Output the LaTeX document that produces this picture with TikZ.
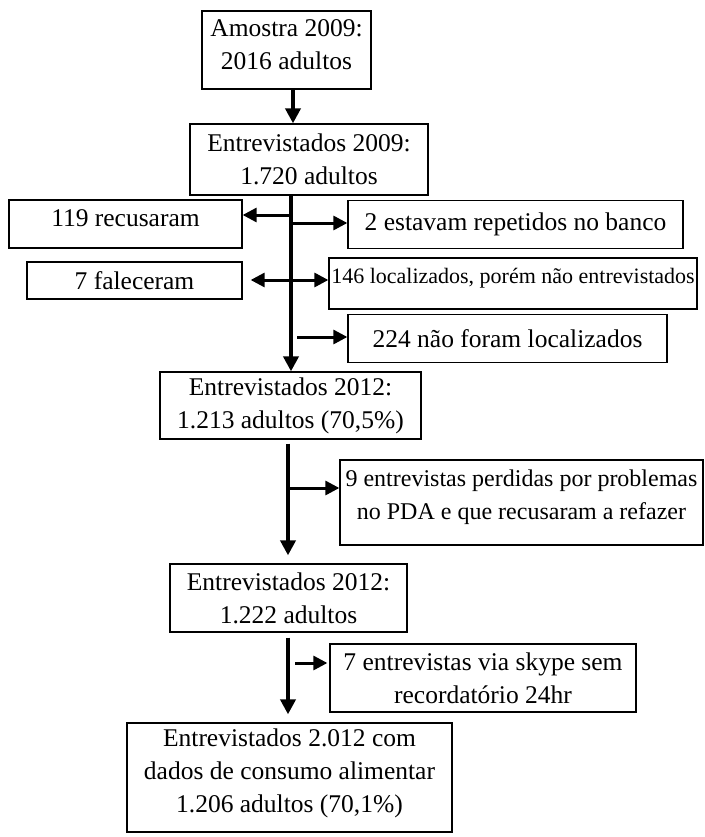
\documentclass[tikz,border=0pt]{standalone}
\usepackage{fontspec}
\setmainfont{Liberation Serif}
\usetikzlibrary{arrows.meta,calc,positioning}
\tikzstyle{box}=[rectangle,draw=black,line width=1.3pt,inner sep=1pt,align=center,
  font=\fontsize{25.5}{33}\selectfont]
\tikzstyle{smallbox}=[box,font=\fontsize{22}{26}\selectfont]
\tikzstyle{trunk}=[line width=4pt,-{Triangle[length=15pt,width=15pt]}]
\tikzstyle{branch}=[line width=3pt,-{Triangle[length=14pt,width=14pt]}]

\begin{document}
\begin{tikzpicture}[x=1pt,y=-1pt]
    \useasboundingbox (0,0) rectangle (704,837);

    % main column
    \node[box,minimum width=169pt,minimum height=78pt,text depth=10pt] (amostra) at (286.5,50)
      {Amostra 2009:\\2016 adultos};
    \node[box,minimum width=238pt,minimum height=71pt] (entr09) at (309,159.5)
      {Entrevistados 2009:\\1.720 adultos};
    \node[box,minimum width=261pt,minimum height=67pt] (entr12a) at (290.5,405.5)
      {Entrevistados 2012:\\1.213 adultos (70,5\%)};
    \node[box,minimum width=237pt,minimum height=68pt] (entr12b) at (288.5,598)
      {Entrevistados 2012:\\1.222 adultos};
    \node[box,minimum width=325pt,minimum height=109pt,text depth=14pt] (final) at (289.5,777.5)
      {Entrevistados 2.012 com\\dados de consumo alimentar\\1.206 adultos (70,1\%)};

    % losses
    \node[box,minimum width=233pt,minimum height=48pt,text depth=12pt] (recusa) at (125.5,224)
      {119 recusaram};
    \node[box,minimum width=215pt,minimum height=37pt] (falec) at (134.5,280.5)
      {7 faleceram};
    \node[box,minimum width=335pt,minimum height=48pt] (repet) at (515.5,224.5)
      {2 estavam repetidos no banco};
    \node[smallbox,minimum width=368pt,minimum height=51pt,text depth=15pt] (localiz) at (513,283.5)
      {146 localizados, porém não entrevistados};
    \node[box,minimum width=319pt,minimum height=48pt] (naoloc) at (507.5,338.5)
      {224 não foram localizados};
    \node[box,font=\fontsize{24}{32.5}\selectfont,minimum width=363pt,minimum height=85pt,text depth=16pt]
      (perdidas) at (521.5,502.5)
      {9 entrevistas perdidas por problemas\\no PDA e que recusaram a refazer};
    \node[box,minimum width=306pt,minimum height=68pt] (skype) at (483,678)
      {7 entrevistas via skype sem\\recordatório 24hr};

    % trunk lines
    \coordinate (tr0) at ($(amostra.south)+(6.5,0)$);
    \coordinate (tr1) at (291,0);
    \coordinate (tr2) at (288,0);
    \draw[trunk] (tr0) -- (tr0 |- entr09.north);
    \draw[trunk] (entr09.south -| tr1) -- (entr12a.north -| tr1);
    \draw[trunk] ($(entr12a.south -| tr2)+(0,4)$) -- ($(entr12b.north -| tr2)+(0,-8)$);
    \draw[trunk] ($(entr12b.south -| tr2)+(0,5)$) -- ($(final.north -| tr2)+(0,-8)$);

    % branches
    \coordinate (b1) at (290,215);
    \coordinate (b2) at (292,223);
    \coordinate (b3) at (291,280);
    \coordinate (b4) at (297,337);
    \coordinate (b5) at (288,488);
    \coordinate (b6) at (295,663);
    \draw[branch] (b1) -- (b1 -| recusa.east);
    \draw[branch] (b2) -- (b2 -| repet.west);
    \draw[branch] (b3) -- ($(b3 -| falec.east)+(8,0)$);
    \draw[branch] (b3) -- (b3 -| localiz.west);
    \draw[branch] (b4) -- (b4 -| naoloc.west);
    \draw[branch] (b5) -- (b5 -| perdidas.west);
    \draw[branch] (b6) -- ($(b6 -| skype.west)+(-2,0)$);
\end{tikzpicture}
\end{document}
